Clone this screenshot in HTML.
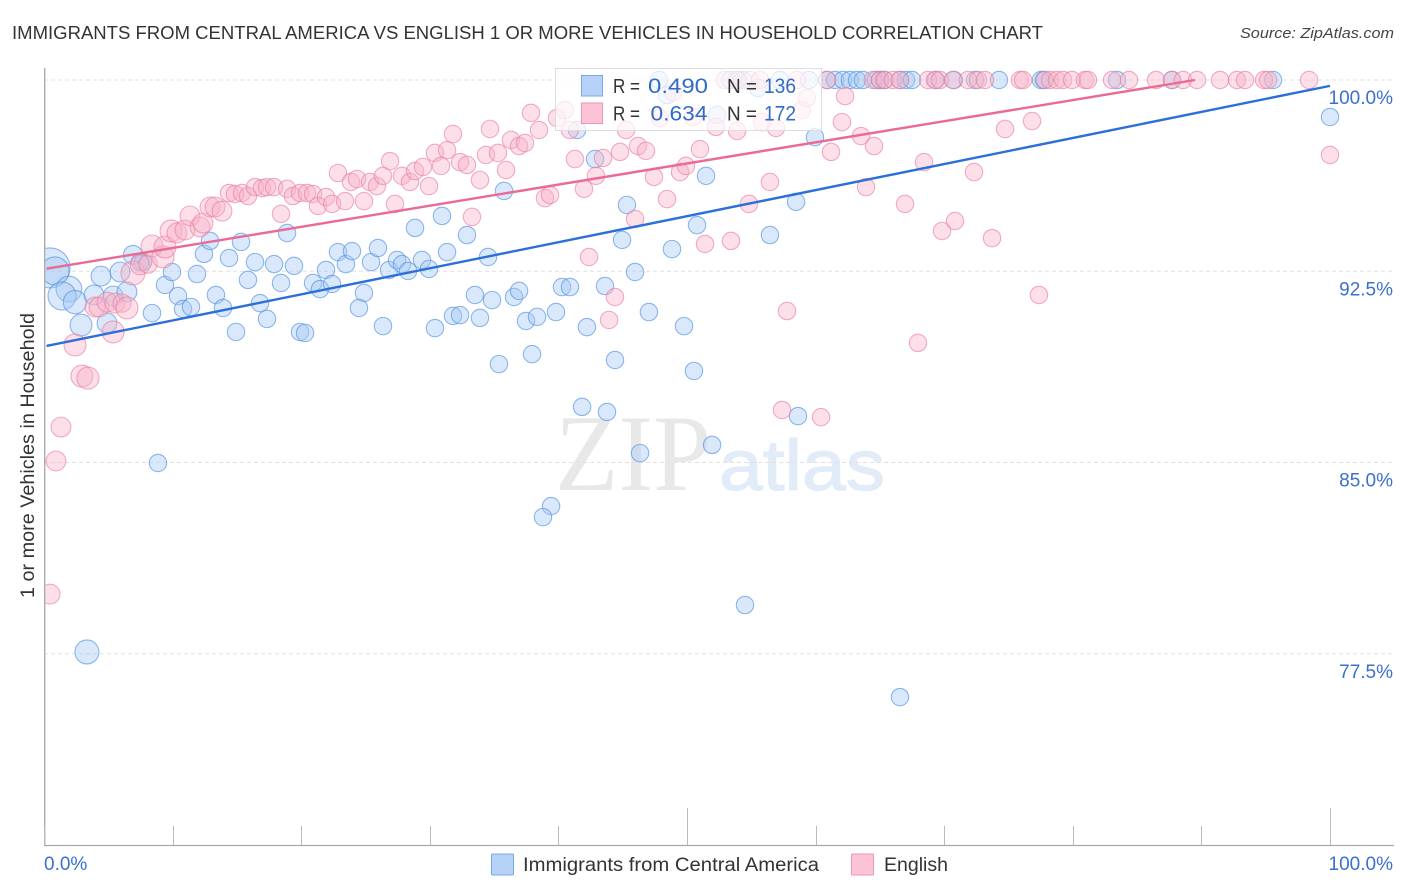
<!DOCTYPE html>
<html lang="en">
<head>
<meta charset="utf-8">
<title>Immigrants from Central America vs English 1 or more Vehicles in Household Correlation Chart</title>
<style>
html,body{margin:0;padding:0;background:#fff;}
svg{display:block;font-family:"Liberation Sans",sans-serif;}
</style>
</head>
<body>
<svg id="chart" width="1406" height="892" viewBox="0 0 1406 892" xmlns="http://www.w3.org/2000/svg">
  <defs>
    <clipPath id="plot-clip"><rect x="45.6" y="60" width="1360" height="785"/></clipPath>
  </defs>
  <rect x="0" y="0" width="1406" height="892" fill="#fff"/>
  <text x="12" y="39" font-size="18" fill="#333" textLength="1031" lengthAdjust="spacingAndGlyphs">IMMIGRANTS FROM CENTRAL AMERICA VS ENGLISH 1 OR MORE VEHICLES IN HOUSEHOLD CORRELATION CHART</text>
  <text x="1394" y="38" font-size="15" font-style="italic" fill="#444" text-anchor="end" textLength="154" lengthAdjust="spacingAndGlyphs">Source: ZipAtlas.com</text>
  <g>
    <text x="555" y="490" font-size="109" font-family="Liberation Serif, serif" fill="#e8e8e8" textLength="156" lengthAdjust="spacingAndGlyphs">ZIP</text>
    <text x="719" y="490" font-size="71" fill="#e2ebf8" stroke="#e2ebf8" stroke-width="1.2" textLength="166" lengthAdjust="spacingAndGlyphs">atlas</text>
  </g>
  <g id="grid"></g>
  <g id="axes"></g>
  <g id="points-blue" clip-path="url(#plot-clip)"></g>
  <g id="points-pink" clip-path="url(#plot-clip)"></g>
  <g id="trends"></g>
  <text transform="translate(34,598) rotate(-90)" font-size="19" fill="#333" textLength="285" lengthAdjust="spacingAndGlyphs">1 or more Vehicles in Household</text>
  <g>
    <rect x="555.5" y="68.5" width="266" height="62" fill="#fff" fill-opacity="0.72" stroke="#ddd" stroke-width="1"/>
    <rect x="581.5" y="75.5" width="21" height="20.5" fill="#b6d2f6" stroke="#7aa9e3"/>
    <rect x="581.5" y="103" width="21" height="20.5" fill="#fcc2d5" stroke="#eb97b3"/>
    <text x="613" y="93" font-size="20" fill="#333" textLength="27" lengthAdjust="spacingAndGlyphs">R =</text>
    <text x="648" y="93" font-size="21" fill="#2f6bc9" textLength="60" lengthAdjust="spacingAndGlyphs">0.490</text>
    <text x="727" y="93" font-size="20" fill="#333" textLength="30" lengthAdjust="spacingAndGlyphs">N =</text>
    <text x="764" y="93" font-size="21" fill="#2f6bc9" textLength="32" lengthAdjust="spacingAndGlyphs">136</text>
    <text x="613" y="120.5" font-size="20" fill="#333" textLength="27" lengthAdjust="spacingAndGlyphs">R =</text>
    <text x="650.5" y="120.5" font-size="21" fill="#2f6bc9" textLength="57" lengthAdjust="spacingAndGlyphs">0.634</text>
    <text x="727" y="120.5" font-size="20" fill="#333" textLength="30" lengthAdjust="spacingAndGlyphs">N =</text>
    <text x="764" y="120.5" font-size="21" fill="#2f6bc9" textLength="32" lengthAdjust="spacingAndGlyphs">172</text>
  </g>
  <g>
    <rect x="491.5" y="854" width="22" height="21" rx="1" fill="#b6d2f6" stroke="#7aa9e3"/>
    <text x="523" y="871" font-size="19" fill="#333" textLength="296" lengthAdjust="spacingAndGlyphs">Immigrants from Central America</text>
    <rect x="851.5" y="854" width="22" height="21" rx="1" fill="#fcc2d5" stroke="#eb97b3"/>
    <text x="884" y="871" font-size="19" fill="#333" textLength="64" lengthAdjust="spacingAndGlyphs">English</text>
  </g>
</svg>
<script>
const yTickValues = [100, 92.5, 85, 77.5];
const yTickLabels = ["100.0%", "92.5%", "85.0%", "77.5%"];
const xTickValues = [0, 10, 20, 30, 40, 50, 60, 70, 80, 90, 100];
const xMajorTicks = [50, 100];
const xEndLabels = ["0.0%", "100.0%"];
const xEndValues = [0, 100];

const blueTrendX = [0.2, 100];
const blueTrendY = [89.57, 99.77];
const pinkTrendX = [0.2, 89.5];
const pinkTrendY = [92.6, 100];

const blueSizes = [5.3,2.6,2.2,2.6,1.8,1.6,1.3,1.3,1.3,1.2,1,1,1.3,1.3,1.3,1.9];
const blueX = [0.47,0.86,1.94,1.40,2.41,2.88,3.89,4.43,5.91,6.92,7.70,7.47,5.37,6.45,4.90,3.34,
8.40,9.41,9.95,10.42,10.81,11.43,11.90,12.44,12.91,14.39,15.32,13.37,13.92,15.86,16.41,16.80,17.34,17.89,18.43,19.44,18.90,14.93,19.91,20.30,
20.92,21.46,21.93,22.40,22.86,23.48,23.95,24.88,24.49,25.43,25.97,26.36,26.83,27.45,27.84,28.31,28.85,29.39,29.94,30.40,30.95,31.34,31.80,32.35,32.89,
34.53,35.77,33.90,33.51,34.84,36.55,36.94,37.48,38.34,39.81,40.28,40.90,42.22,43.62,45.96,44.95,45.33,47.04,48.83,49.77,50.78,51.48,56.45,58.48,59.95,42.85,41.45,
35.38,37.95,44.40,50.54,41.84,43.78,58.63,46.35,51.95,39.43,38.80,8.86,54.51,66.56,
47.82,48.45,53.34,53.97,54.35,55.52,52.33,57.23,59.49,60.89,61.51,62.13,62.67,63.22,63.68,64.70,65.01,65.32,66.56,67.03,67.50,69.36,70.76,72.40,74.26,77.53,77.76,83.44,87.71,95.57,100];
const blueY = [92.63,92.51,91.80,91.53,91.29,90.39,91.57,92.31,92.47,93.14,92.86,92.86,91.53,91.69,90.47,77.57,
90.86,91.96,92.47,91.53,91.02,91.10,92.39,93.18,93.69,93.02,93.65,91.57,91.06,92.16,92.86,91.25,90.63,92.78,92.04,92.71,94.00,90.12,90.12,90.08,
92.04,91.80,92.55,92.00,93.25,92.78,93.29,91.65,91.06,92.86,93.41,90.35,92.55,92.94,92.78,92.51,94.20,92.94,92.59,90.27,94.67,93.25,90.75,90.78,93.92,
93.06,95.65,90.67,91.57,91.37,91.49,91.73,90.55,90.71,90.90,91.88,91.88,90.31,91.92,92.47,93.73,95.10,90.90,93.37,90.35,94.31,96.24,93.92,95.22,97.76,96.90,98.04,
88.86,89.25,89.02,88.59,87.18,86.98,86.82,85.37,85.69,83.29,82.86,84.98,79.41,75.80,
100,99.41,100,100,100,99.69,98.63,100,100,100,100,100,100,100,100,100,100,100,100,100,100,100,100,100,100,100,100,100,100,100,98.55];

const pinkSizes = [1.3,1.3,1.3,1.6,1.6,1.6,1.6,1.3,1.3,1.3,1.3,1.1,1.6,1.9,1.3,1.1,1.6,1.6,1.6,1.6,1.3,1.3,1.3,1.3,1.3,1.3,1.3,1.3];
const pinkX = [1.32,0.93,0.47,2.41,2.95,3.42,5.37,3.97,4.28,4.90,5.52,6.07,6.45,6.92,7.47,8.09,8.40,9.25,9.41,9.88,10.34,10.96,11.35,12.13,12.36,12.91,13.30,13.84,
14.39,14.85,15.40,15.86,16.41,16.95,17.34,17.89,18.43,18.90,19.36,19.91,20.45,20.92,21.31,21.93,22.40,22.86,23.41,23.87,24.34,24.88,25.35,25.89,26.36,26.91,27.29,27.84,28.46,28.85,29.47,29.94,
30.40,30.87,31.34,31.80,32.35,32.89,33.28,33.90,34.37,34.68,35.30,35.93,36.31,36.94,37.40,37.87,38.49,38.96,39.35,39.89,40.51,40.90,41.29,41.99,42.92,43.47,42.38,43.94,44.40,44.79,45.26,45.96,46.19,46.81,47.43,48.45,49.46,49.92,51.01,51.40,53.42,52.25,47.90,48.91,50.47,53.89,54.82,56.45,56.92,55.83,57.78,58.94,59.33,61.20,62.05,62.29,63.53,64.54,63.92,66.95,68.43,69.83,70.84,72.32,73.72,74.73,76.83,77.37,100,67.96,57.39,60.42,
52.95,53.89,54.90,55.68,58.55,60.89,64.46,65.01,65.40,66.02,66.56,68.74,69.28,69.67,70.68,71.85,72.63,73.17,75.89,76.13,77.84,78.23,78.77,79.24,79.94,80.95,81.18,83.05,84.37,86.47,87.71,88.57,89.66,91.45,92.77,93.39,94.87,95.18,98.37];
const pinkY = [86.39,85.06,79.84,89.61,88.39,88.31,90.12,91.10,91.10,91.29,91.25,91.25,91.06,92.43,92.75,92.78,93.49,93.06,93.45,94.08,94.00,94.12,94.67,94.24,94.39,95.02,95.02,94.86,
95.57,95.53,95.57,95.45,95.80,95.76,95.80,95.80,94.75,95.73,95.45,95.57,95.57,95.53,95.06,95.41,95.14,96.35,95.25,96.00,96.12,95.25,96.00,95.84,96.24,96.82,95.14,96.24,96.00,96.43,96.59,95.84,
97.14,96.63,97.25,97.88,96.78,96.67,94.63,96.08,97.06,98.08,97.14,96.47,97.65,97.41,97.53,98.71,98.04,95.37,95.49,98.51,98.82,98.04,96.90,95.73,96.24,96.94,93.06,90.59,91.49,97.18,98.04,94.55,97.41,97.22,96.20,95.33,96.39,96.63,97.29,93.57,93.69,98.16,98.51,99.53,98.55,98.00,95.14,96.00,98.12,98.35,90.94,98.82,99.29,97.18,98.35,99.37,97.80,97.41,95.80,95.14,96.78,94.08,94.47,96.39,93.80,98.08,98.39,91.57,97.06,89.69,87.06,86.78,
100,100,100,100,100,100,100,100,100,100,100,100,100,100,100,100,100,100,100,100,100,100,100,100,100,100,100,100,100,100,100,100,100,100,100,100,100,100,100];

const NS = "http://www.w3.org/2000/svg";
const xScale = v => 44 + v * 12.86;
const yScale = v => 80 + (100 - v) * 25.5;
const BASE_RADIUS = 8.7;

function make(tag, attrs, parent, text) {
  const el = document.createElementNS(NS, tag);
  for (const k in attrs) el.setAttribute(k, attrs[k]);
  if (text !== undefined) el.textContent = text;
  parent.appendChild(el);
  return el;
}

const gridGroup = document.getElementById("grid");
const axesGroup = document.getElementById("axes");

yTickValues.forEach((v, i) => {
  const y = yScale(v);
  const line = make("line", {x1: 44, x2: 1394, y1: y, y2: y, stroke: "#e0e0e0", "stroke-width": 1, "stroke-dasharray": "4 3"}, gridGroup);
  
  
  const label = make("text", {x: 1393, y: y + 24, "font-size": 19, fill: "#3b6fd0", "text-anchor": "end"}, axesGroup, yTickLabels[i]);
  
  
});

const yAxisLine = make("line", {x1: 44.7, x2: 44.7, y1: 68, y2: 845.5, stroke: "#aaa", "stroke-width": 1.4}, axesGroup);


const xAxisLine = make("line", {x1: 44, x2: 1394, y1: 845.5, y2: 845.5, stroke: "#aaa", "stroke-width": 1.2}, axesGroup);



xTickValues.forEach(v => {
  const x = Math.round(xScale(v)) + 0.5;
  const top = xMajorTicks.includes(v) ? 808 : 826;
  const tick = make("line", {x1: x, x2: x, y1: top, y2: 845, stroke: "#bbb", "stroke-width": 1}, axesGroup);
  
  
});

xEndValues.forEach((v, i) => {
  const anchor = i === 0 ? "start" : "end";
  const x = i === 0 ? xScale(v) : 1393;
  const label = make("text", {x: x, y: 870, "font-size": 19, fill: "#3b6fd0", "text-anchor": anchor}, axesGroup, xEndLabels[i]);
  
  
});

function drawPoints(groupId, xs, ys, sizes, fill, stroke, name) {
  const group = document.getElementById(groupId);
  xs.forEach((v, i) => {
    const weight = sizes[i] === undefined ? 1 : sizes[i];
    const c = make("circle", {
      cx: xScale(v), cy: yScale(ys[i]), r: BASE_RADIUS * Math.sqrt(weight),
      fill: fill, "fill-opacity": 0.42, stroke: stroke, "stroke-opacity": 0.62, "stroke-width": 1.1
    }, group);
    
    
  });
}
drawPoints("points-blue", blueX, blueY, blueSizes, "#a5c8f2", "#4c8ee0", "immigrants-point");
drawPoints("points-pink", pinkX, pinkY, pinkSizes, "#f8b3c9", "#e87c9f", "english-point");

const trendGroup = document.getElementById("trends");
const blueTrend = make("line", {x1: xScale(blueTrendX[0]), y1: yScale(blueTrendY[0]), x2: xScale(blueTrendX[1]), y2: yScale(blueTrendY[1]), stroke: "#2b6fd8", "stroke-width": 2.4}, trendGroup);


const pinkTrend = make("line", {x1: xScale(pinkTrendX[0]), y1: yScale(pinkTrendY[0]), x2: xScale(pinkTrendX[1]), y2: yScale(pinkTrendY[1]), stroke: "#ea6a96", "stroke-width": 2.4}, trendGroup);


</script>
</body>
</html>
